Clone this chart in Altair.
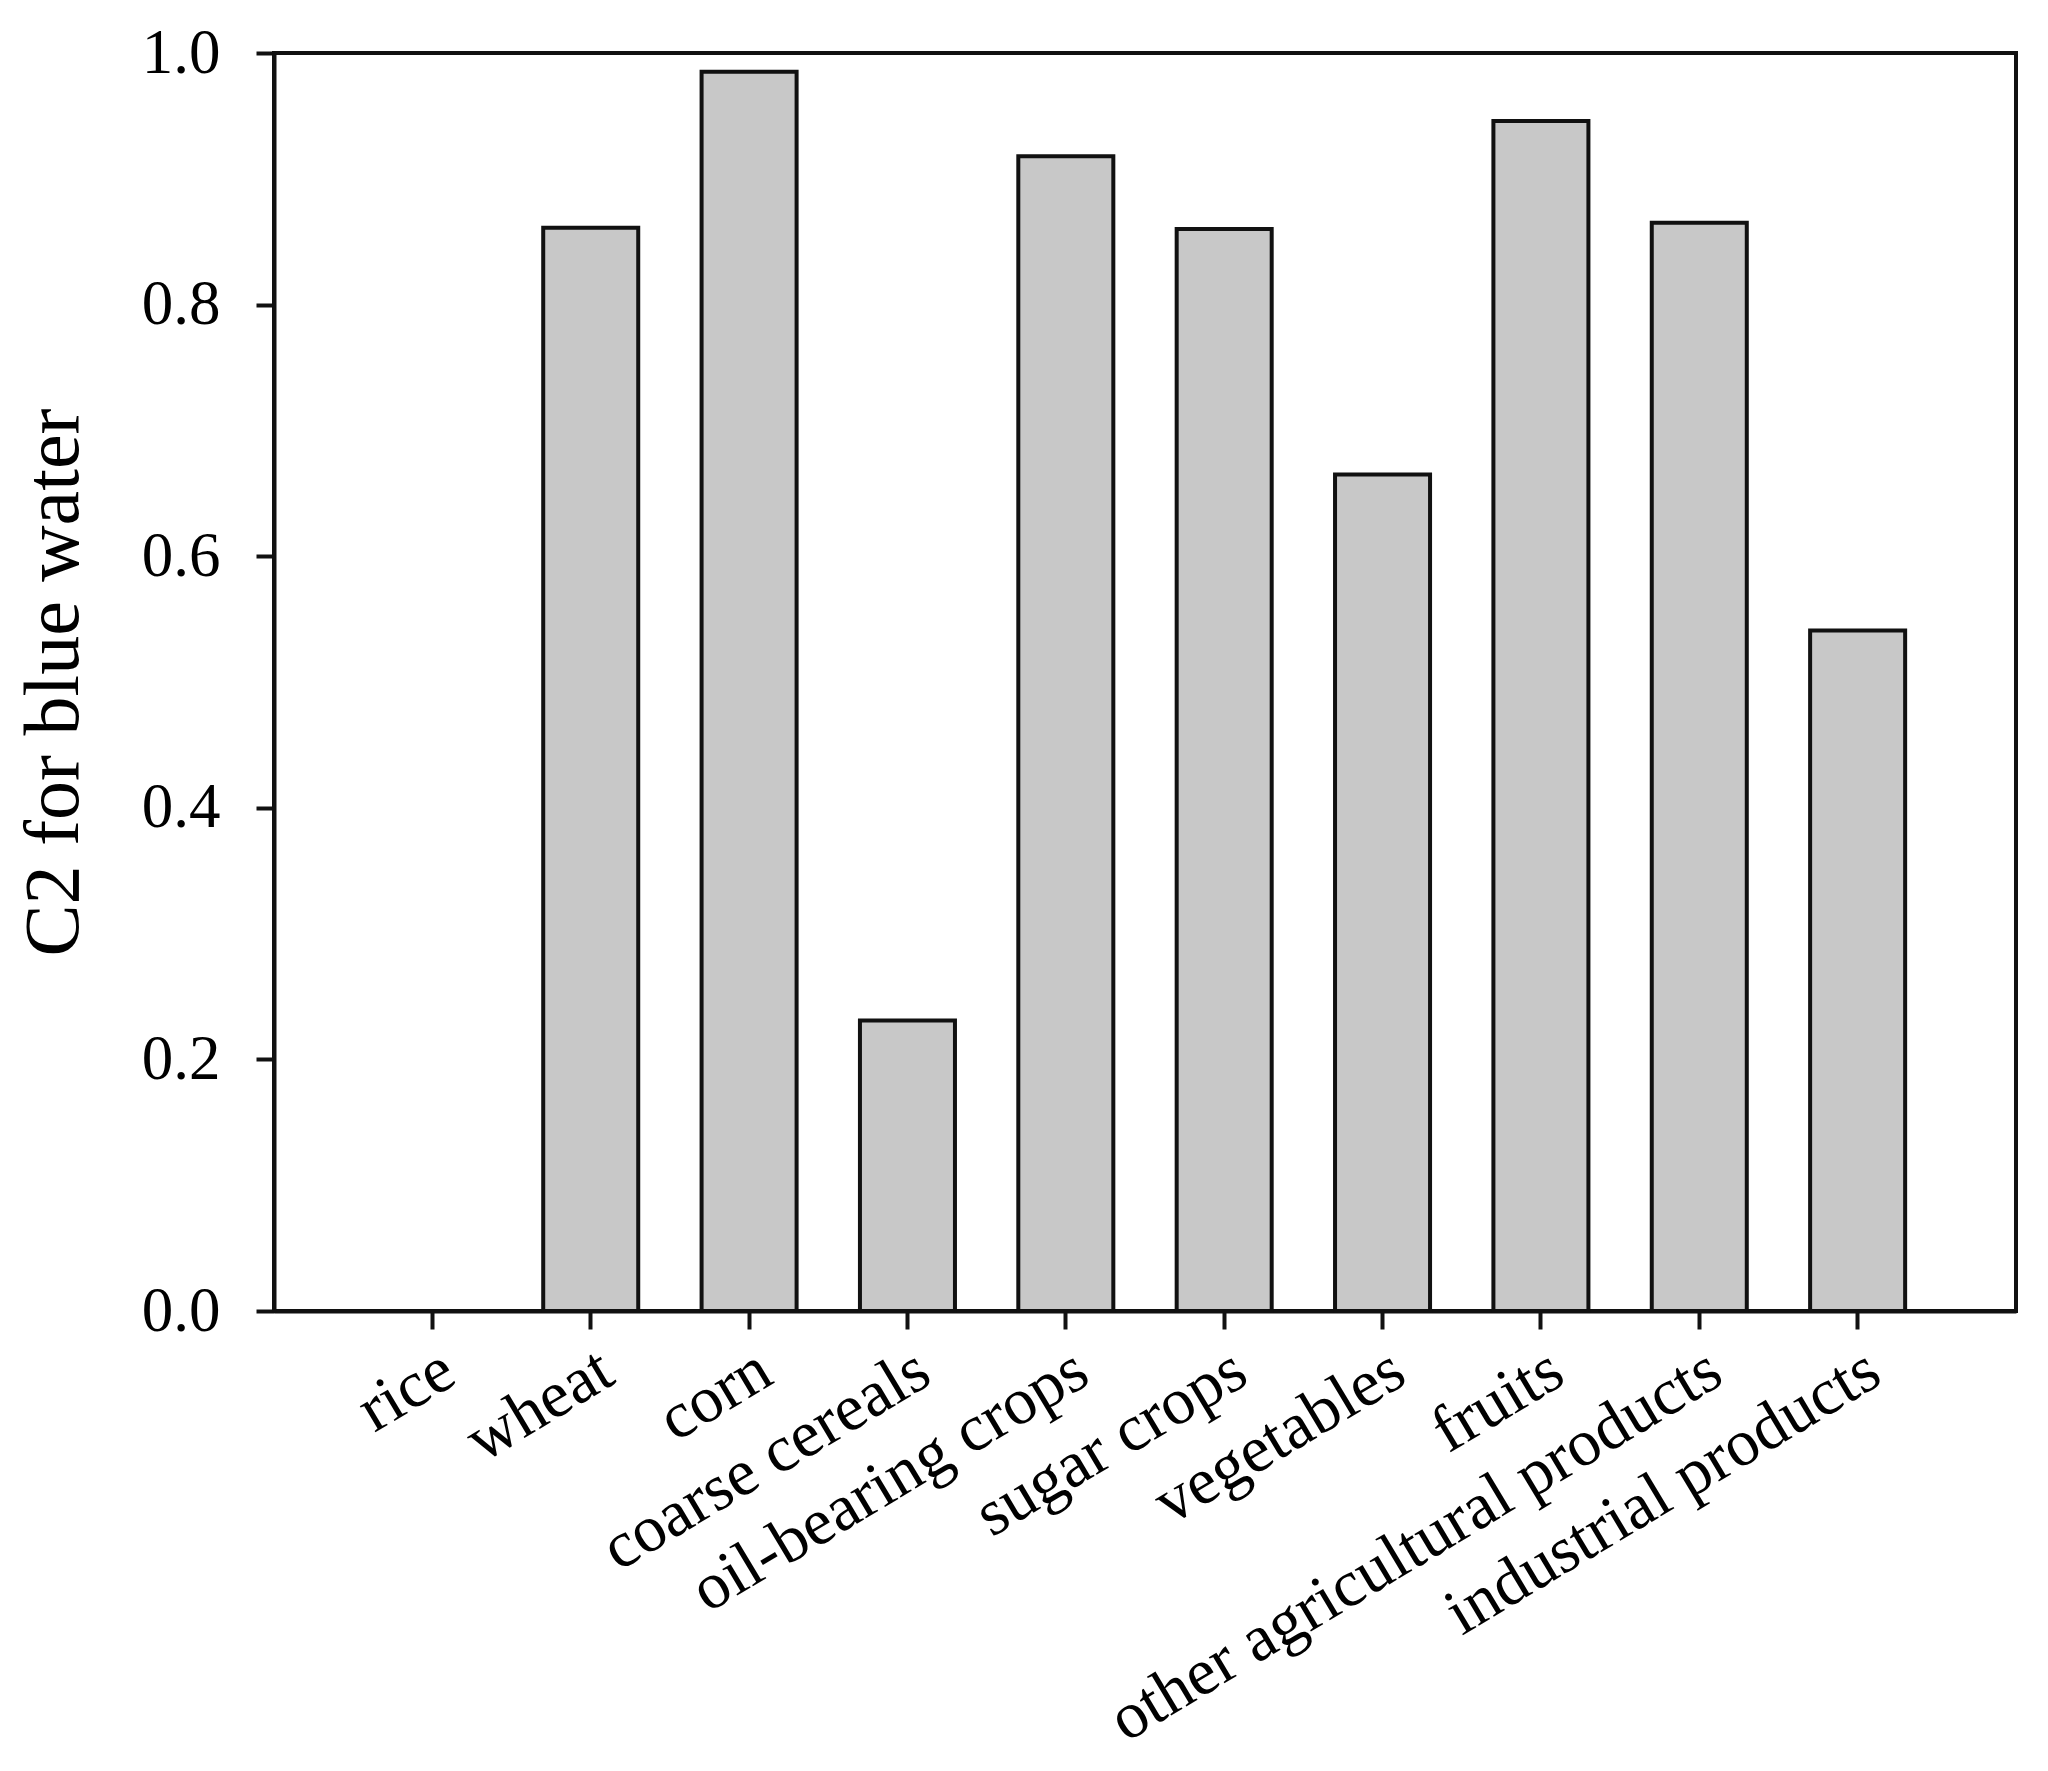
import altair as alt
import pandas as pd

categories = ["rice", "wheat", "corn", "coarse cereals", "oil-bearing crops",
              "sugar crops", "vegetables", "fruits", "other agricultural products",
              "industrial products"]
values = [0.0, 0.861, 0.985, 0.231, 0.918, 0.860, 0.665, 0.946, 0.865, 0.541]
y_ticks = [0.0, 0.2, 0.4, 0.6, 0.8, 1.0]

df = pd.DataFrame({"category": categories, "value": values})

FONT = "Liberation Serif"
W, H = 1742, 1258

chart = alt.Chart(df).transform_filter(
    alt.datum.value > 0
).mark_bar(
    fill="#c8c8c8", stroke="#111111", strokeWidth=4
).encode(
    x=alt.X("category:N", sort=categories,
            scale=alt.Scale(domain=categories, paddingInner=0.4, paddingOuter=0.7),
            axis=alt.Axis(title=None, labelAngle=-31, labelFontSize=66,
                          labelFont=FONT, labelColor="black", labelPadding=8,
                          labelAlign="right", labelBaseline="top",
                          labelOverlap=False, labelLimit=0,
                          tickSize=18, tickWidth=4, tickColor="#111111",
                          domainColor="#111111", domainWidth=4)),
    y=alt.Y("value:Q", scale=alt.Scale(domain=[0, 1], nice=False),
            axis=alt.Axis(title="C2 for blue water", values=y_ticks, format=".1f",
                          labelFontSize=63, labelFont=FONT, labelColor="black",
                          labelPadding=36, tickSize=18, tickWidth=4,
                          tickColor="#111111", domainColor="#111111", domainWidth=4,
                          grid=False, titleFont=FONT, titleFontSize=78,
                          titleFontWeight="normal", titleColor="black",
                          titleX=-220, titleY=H / 2, titleAngle=-90,
                          titleAlign="center", titleBaseline="middle"))
).properties(
    width=W, height=H,
    background="white",
    autosize=alt.AutoSizeParams(type="none"),
    padding={"left": 266, "top": 45, "right": 24, "bottom": 458}
).configure_view(
    stroke="#111111", strokeWidth=4
)

chart.save("out.html", embed_options={"renderer": "svg", "actions": False})
